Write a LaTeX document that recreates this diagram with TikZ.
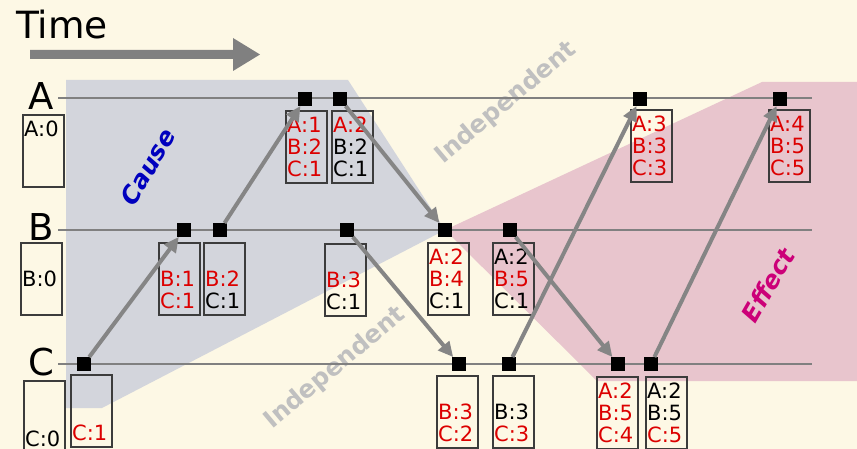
\documentclass[tikz,border=0pt]{standalone}
\usepackage{fontspec}
\setmainfont{DejaVu Sans}
\usetikzlibrary{arrows.meta}
\definecolor{bgcream}{RGB}{253,248,229}
\definecolor{causegray}{RGB}{211,213,220}
\definecolor{effpink}{RGB}{232,197,205}
\definecolor{linegray}{RGB}{128,128,128}
\definecolor{arrgray}{RGB}{133,133,133}
\definecolor{boxedge}{RGB}{60,60,60}
\definecolor{cred}{RGB}{220,0,0}
\definecolor{cblue}{RGB}{0,0,190}
\definecolor{cmag}{RGB}{204,0,120}
\definecolor{indgray}{RGB}{192,192,192}
\newcommand\R[1]{\textcolor{cred}{#1}}
\newcommand\clockbox[6]{%
  \node[cbox] (#1) at (#2+20.5,#3+36) {};
  \node[ctext] (#1r1) at (#2+1,#3+21.5) {#4};
  \node[ctext] (#1r2) at (#2+1,#3+43.5) {#5};
  \node[ctext] (#1r3) at (#2+1,#3+65.5) {#6};
}
\begin{document}
\begin{tikzpicture}[x=1pt,y=-1pt,
  procline/.style={draw=linegray,line width=1.3pt},
  biglbl/.style={font=\fontsize{37}{37}\selectfont,anchor=base,inner sep=0},
  cbox/.style={draw=boxedge,line width=1.2pt,minimum width=41pt,minimum height=72pt,inner sep=0},
  ctext/.style={anchor=base west,inner sep=0,font=\fontsize{21}{21}\selectfont},
  ev/.style={fill=black,minimum size=13.5pt,inner sep=0},
  msg/.style={draw=arrgray,line width=4pt,-{Triangle[length=15pt,width=14pt]}},
  regionlbl/.style={font=\fontsize{24.5}{24.5}\selectfont\bfseries\itshape,inner sep=0,rotate=60},
  indlbl/.style={font=\fontsize{24.5}{24.5}\selectfont\bfseries,text=indgray,inner sep=0,rotate=40}]
\useasboundingbox (0,0) rectangle (857,449);
\fill[bgcream] (0,0) rectangle (857,449);
% regions
\fill[causegray] (66,80) -- (348,80) -- (445,230) -- (102,408) -- (66,408) -- cycle;
\fill[effpink] (445,230) -- (762,82) -- (857,82) -- (857,381) -- (597,381) -- cycle;
% region labels
\node[regionlbl,text=cblue] (cause) at (148,167) {Cause};
\node[regionlbl,text=cmag] (effect) at (768,285) {Effect};
\node[indlbl] (ind1) at (506,103) {Independent};
\node[indlbl] (ind2) at (335,368) {Independent};
% time
\node[font=\fontsize{37.5}{37.5}\selectfont,anchor=base west,inner sep=0] (time) at (16,39) {Time};
\fill[linegray] (30,50) -- (233,50) -- (233,38) -- (260,54.5) -- (233,71) -- (233,59) -- (30,59) -- cycle;
% process labels and lines
\node[biglbl] (lA) at (41,110) {A};
\node[biglbl] (lB) at (41,241) {B};
\node[biglbl] (lC) at (41,375) {C};
\coordinate (As) at (58,98);  \coordinate (Ae) at (812,98);
\coordinate (Bs) at (58,230); \coordinate (Be) at (812,230);
\coordinate (Cs) at (58,364); \coordinate (Ce) at (812,364);
\draw[procline] (As) -- (Ae);
\draw[procline] (Bs) -- (Be);
\draw[procline] (Cs) -- (Ce);
% clock boxes
\clockbox{bA0}{23}{115}{A:0}{}{}
\clockbox{bB0}{21}{243}{}{B:0}{}
\clockbox{bC0}{24}{381}{}{}{C:0}
\clockbox{bA1}{286}{111}{\R{A:1}}{\R{B:2}}{\R{C:1}}
\clockbox{bA2}{332}{111}{\R{A:2}}{B:2}{C:1}
\clockbox{bA3}{631}{110}{\R{A:3}}{\R{B:3}}{\R{C:3}}
\clockbox{bA4}{769}{110}{\R{A:4}}{\R{B:5}}{\R{C:5}}
\clockbox{bB1}{159}{243}{}{\R{B:1}}{\R{C:1}}
\clockbox{bB2}{204}{243}{}{\R{B:2}}{C:1}
\clockbox{bB3}{325}{244}{}{\R{B:3}}{C:1}
\clockbox{bB4}{428}{243}{\R{A:2}}{\R{B:4}}{C:1}
\clockbox{bB5}{493}{243}{A:2}{\R{B:5}}{C:1}
\clockbox{bC1}{71}{375}{}{}{\R{C:1}}
\clockbox{bC2}{437}{376}{}{\R{B:3}}{\R{C:2}}
\clockbox{bC3}{493}{376}{}{B:3}{\R{C:3}}
\clockbox{bC4}{597}{377}{\R{A:2}}{\R{B:5}}{\R{C:4}}
\clockbox{bC5}{646}{377}{A:2}{B:5}{\R{C:5}}
% events
\node[ev] (a1) at (305,99) {};
\node[ev] (a2) at (340,99) {};
\node[ev] (a3) at (640,99) {};
\node[ev] (a4) at (780,99) {};
\node[ev] (b1) at (184,230) {};
\node[ev] (b2) at (220,230) {};
\node[ev] (b3) at (347,230) {};
\node[ev] (b4) at (445,230) {};
\node[ev] (b5) at (510,230) {};
\node[ev] (c1) at (84,364) {};
\node[ev] (c2) at (459,364) {};
\node[ev] (c3) at (509,364) {};
\node[ev] (c4) at (618,364) {};
\node[ev] (c5) at (651,364) {};
% messages
\draw[msg] (c1) -- (b1);
\draw[msg] (b2) -- (a1);
\draw[msg] (a2) -- (b4);
\draw[msg] (b3) -- (c2);
\draw[msg] (c3) -- (a3);
\draw[msg] (b5) -- (c4);
\draw[msg] (c5) -- (a4);
\end{tikzpicture}
\end{document}
